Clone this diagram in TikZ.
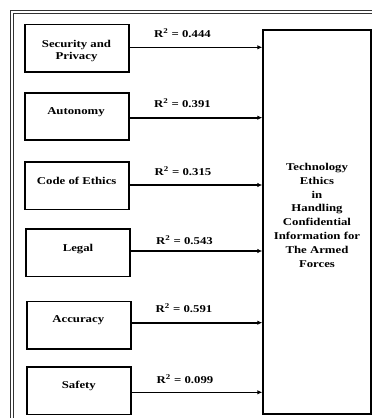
\documentclass[tikz,border=0pt]{standalone}
\usepackage{fontspec}
\setmainfont{Liberation Serif}[FakeStretch=1.22]
\usetikzlibrary{arrows.meta}
\tikzset{
  box/.style={draw=black, line width=1.7bp, inner sep=0pt},
  frameline/.style={draw=black!80, line width=0.8bp},
  conn/.style={draw=black, line width=1.6bp, -{Latex[length=5bp,width=4.5bp]}},
  txt/.style={font=\fontsize{10.5}{13}\selectfont\bfseries, align=center, inner sep=0pt},
  rlbl/.style={font=\fontsize{10.5}{13}\selectfont\bfseries, inner sep=0pt},
}
\begin{document}
\begin{tikzpicture}[x=1bp,y=-1bp]
\useasboundingbox (0,0) rectangle (372,418);
\clip (0,0) rectangle (372,418);
% outer double frame
\draw[frameline] (10,430) -- (10,10) -- (390,10);
\draw[frameline] (13,430) -- (13,13) -- (390,13);
% left boxes
\node[box, minimum width=104bp, minimum height=47.5bp] (b1) at (76.8,48.3) {};
\node[box, minimum width=104bp, minimum height=47.5bp] (b2) at (77.2,116.5) {};
\node[box, minimum width=104bp, minimum height=47.5bp] (b3) at (77.2,185.8) {};
\node[box, minimum width=104bp, minimum height=47.5bp] (b4) at (78.3,252.8) {};
\node[box, minimum width=104bp, minimum height=47.5bp] (b5) at (78.7,325.2) {};
\node[box, minimum width=104bp, minimum height=47.5bp] (b6) at (78.7,390.8) {};
% right box
\node[box, minimum width=108bp, minimum height=384bp] (t) at (317.2,222) {};
% box texts
\node[txt] at (76.5,51) {Security and\\Privacy};
\node[txt] at (76,112.3) {Autonomy};
\node[txt] at (76.7,181) {Code of Ethics};
\node[txt] at (78,249) {Legal};
\node[txt] at (78.3,320.3) {Accuracy};
\node[txt] at (78.8,386) {Safety};
\node[txt, font=\fontsize{10.5}{13.9}\selectfont\bfseries] at (317,215.3) {Technology\\Ethics\\in\\Handling\\Confidential\\Information for\\The Armed\\Forces};
% connectors
\coordinate (e1) at (t.west |- 0,47.3);
\coordinate (e2) at (t.west |- 0,117.7);
\coordinate (e3) at (t.west |- 0,185);
\coordinate (e4) at (t.west |- 0,251);
\coordinate (e5) at (t.west |- 0,322.7);
\coordinate (e6) at (t.west |- 0,392.3);
\draw[conn] (b1.east |- e1) -- (e1);
\draw[conn] (b2.east |- e2) -- (e2);
\draw[conn] (b3.east |- e3) -- (e3);
\draw[conn] (b4.east |- e4) -- (e4);
\draw[conn] (b5.east |- e5) -- (e5);
\draw[conn] (b6.east |- e6) -- (e6);
% labels
\node[rlbl] at (182.5,33.5) {R\textsuperscript{2} = 0.444};
\node[rlbl] at (182.5,103.3) {R\textsuperscript{2} = 0.391};
\node[rlbl] at (183,171) {R\textsuperscript{2} = 0.315};
\node[rlbl] at (184.5,240) {R\textsuperscript{2} = 0.543};
\node[rlbl] at (184,307.7) {R\textsuperscript{2} = 0.591};
\node[rlbl] at (185,379) {R\textsuperscript{2} = 0.099};
\end{tikzpicture}
\end{document}
